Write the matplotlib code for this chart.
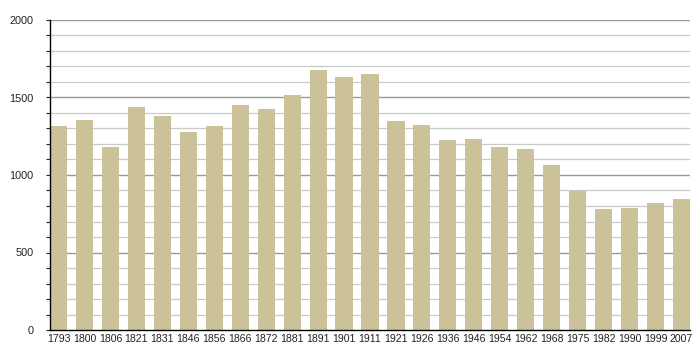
import numpy as np
import matplotlib
matplotlib.use("Agg")
import matplotlib.pyplot as plt

years = ["1793", "1800", "1806", "1821", "1831", "1846", "1856", "1866", "1872",
         "1881", "1891", "1901", "1911", "1921", "1926", "1936", "1946", "1954",
         "1962", "1968", "1975", "1982", "1990", "1999", "2007"]
population = [1315, 1354, 1180, 1437, 1380, 1277, 1315, 1450, 1425,
              1515, 1676, 1631, 1650, 1347, 1322, 1225, 1231, 1180,
              1167, 1062, 897, 779, 785, 818, 844]

plt.rcParams['font.family'] = ['Liberation Sans', 'DejaVu Sans']

fig = plt.figure(figsize=(7, 3.6), dpi=100)
ax = fig.add_axes([50 / 700, 30 / 360, 640 / 700, 310 / 360])

bar_w = 0.66
x = np.arange(len(years))
ax.bar(x, population, width=bar_w, align='edge', color='#cbc299', zorder=3)

# grid lines every 100, darker every 500
for v in range(100, 2001, 100):
    if v % 500 == 0:
        ax.axhline(v, color='#9a9a9a', lw=1.0, zorder=1)
    else:
        ax.axhline(v, color='#c9c9c9', lw=0.9, zorder=1)

ax.set_xlim(0, len(years) - 1 + bar_w)
ax.set_ylim(0, 2000)

ax.set_xticks(x + bar_w / 2)
ax.set_xticklabels(years, fontsize=7.6, color='#222222')
ax.tick_params(axis='x', length=0, pad=3)

ax.set_yticks(range(0, 2001, 500))
ax.set_yticks(range(0, 2001, 100), minor=True)
ax.tick_params(axis='y', which='both', length=3, width=0.8, pad=9,
               labelsize=7.8, colors='#222222')

for side in ['top', 'right']:
    ax.spines[side].set_visible(False)
ax.spines['left'].set_linewidth(1.0)
ax.spines['bottom'].set_linewidth(1.0)
ax.spines['left'].set_zorder(4)
ax.spines['bottom'].set_zorder(4)

fig.savefig("out.png", dpi=100)
